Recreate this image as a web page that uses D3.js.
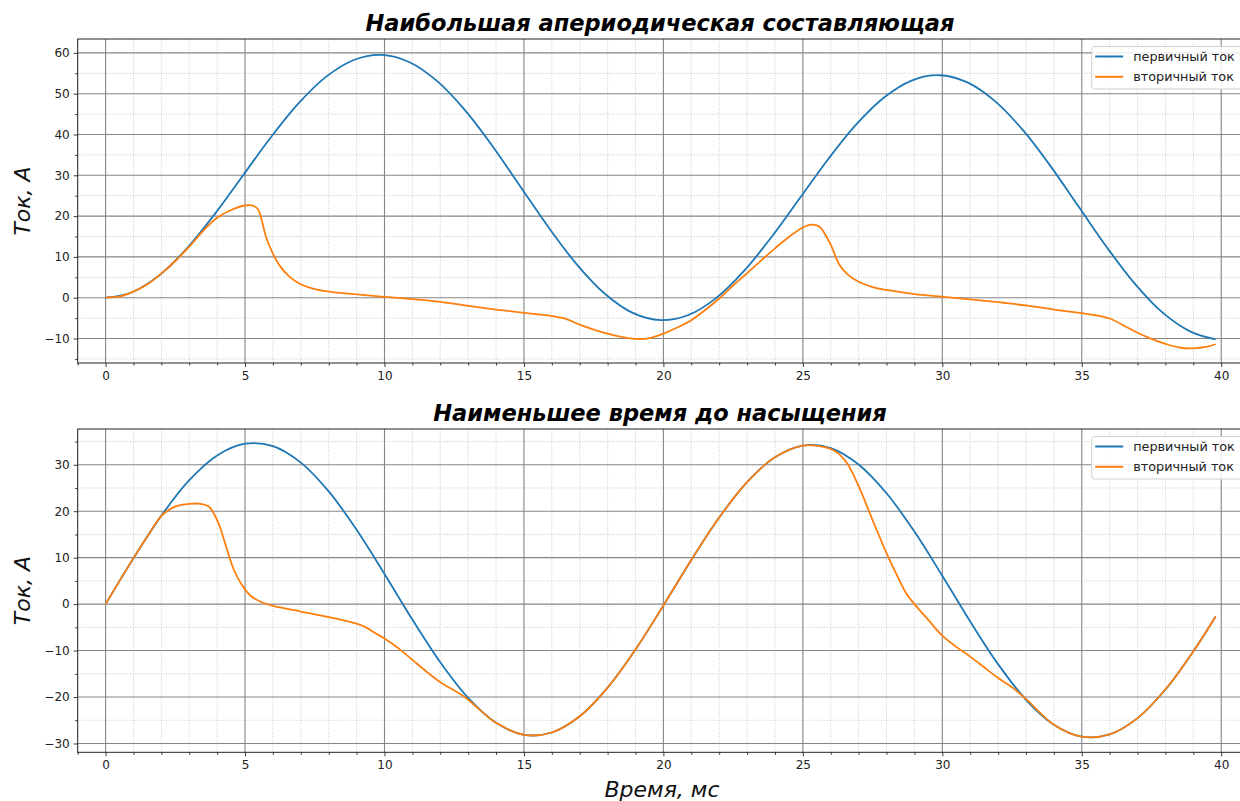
<!DOCTYPE html>
<html><head><meta charset="utf-8">
<script src="https://cdn.jsdelivr.net/npm/d3@7"></script>
<style>
html,body{margin:0;padding:0;background:#fff;}
svg{display:block;font-family:"DejaVu Sans",sans-serif;}
</style></head>
<body><svg id="c" width="1240" height="801"></svg>
<script>
// ---- data (time in ms, current in A) ----
const seriesNames = ["первичный ток", "вторичный ток"];
const seriesColors = ["#1f77b4", "#ff7f0e"];
const panelTitles = ["Наибольшая апериодическая составляющая", "Наименьшее время до насыщения"];
const xLabel = "Время, мс";
const yLabel = "Ток, А";
const xTicks = [0, 5, 10, 15, 20, 25, 30, 35, 40];
const yTicksTop = [-10, 0, 10, 20, 30, 40, 50, 60];
const yTicksBot = [-30, -20, -10, 0, 10, 20, 30];

const topPrimary = [[0,0],[0.9,1.22],[1.9,5.36],[2.9,11.97],[3.9,20.37],[4.9,29.72],[5.9,39.07],[6.9,47.49],[7.9,54.11],[8.9,58.26],[9.9,59.51],[10.9,57.71],[11.9,53.01],[12.9,45.84],[13.9,36.88],[14.9,26.97],[15.9,17.07],[16.9,8.12],[17.9,0.96],[18.9,-3.73],[19.9,-5.5],[20.9,-4.23],[21.9,-0.04],[22.9,6.62],[23.9,15.08],[24.9,24.48],[25.9,33.88],[26.9,42.35],[27.9,49.02],[28.9,53.22],[29.9,54.52],[30.9,52.77],[31.9,48.11],[32.9,40.99],[33.9,32.07],[34.9,22.21],[35.9,12.36],[36.9,3.45],[37.9,-3.67],[38.9,-8.31],[39.8,-10.2]];

const topSecondary = [[0,0],[0.5,0.3],[1,1.5],[1.5,3.3],[2,5.9],[2.5,9.0],[3,12.5],[3.5,16.4],[4,19.6],[4.5,21.5],[5,22.6],[5.25,22.6],[5.45,21.8],[5.6,19.0],[5.75,14.9],[6.0,10.8],[6.25,7.8],[6.6,5.1],[7,3.3],[7.5,2.1],[8,1.5],[9,0.8],[10,0.2],[11,-0.35],[12,-1.0],[13,-2.0],[14,-2.9],[15,-3.7],[15.5,-4.1],[16,-4.5],[16.5,-5.2],[17,-6.6],[17.5,-7.8],[18,-8.8],[18.5,-9.6],[19,-10.1],[19.5,-9.9],[20,-8.8],[20.5,-7.3],[21,-5.5],[21.5,-3.0],[22,-0.2],[22.5,3.0],[23,6.0],[23.5,9.1],[24,12.1],[24.5,14.9],[25,17.2],[25.3,17.9],[25.6,17.4],[25.8,15.5],[26.0,13.0],[26.3,8.2],[26.6,5.7],[27,3.9],[27.5,2.6],[28,1.9],[29,0.9],[30,0.25],[31,-0.4],[32,-1.1],[33,-1.9],[34,-2.9],[35,-3.8],[35.5,-4.3],[36,-5.1],[36.5,-6.8],[37,-8.6],[37.5,-10.1],[38,-11.3],[38.5,-12.2],[39,-12.4],[39.5,-12.0],[39.8,-11.4]];

const botPrimary = [[0,0],[0.5,5.0],[1,9.89],[2,19.05],[3,26.67],[4,32.0],[5,34.53],[6,34.0],[7,30.46],[8,24.26],[9,16.01],[10,6.5],[11,-3.33],[12,-12.52],[13,-20.19],[14,-25.56],[15,-28.13],[16,-27.64],[17,-24.14],[18,-17.98],[19,-9.77],[20,-0.3],[21,9.49],[22,18.64],[23,26.27],[24,31.6],[25,34.13],[26,33.6],[27,30.06],[28,23.86],[29,15.61],[30,6.1],[31,-3.73],[32,-12.92],[33,-20.59],[34,-25.96],[35,-28.53],[36,-28.04],[37,-24.54],[38,-18.38],[39,-10.17],[39.8,-2.65]];

const botSecondary = [[0,0],[0.5,5.0],[1,9.9],[1.5,14.6],[2,19.0],[2.3,20.4],[2.6,21.2],[3.0,21.6],[3.4,21.6],[3.7,21.0],[3.9,19.3],[4.1,16.6],[4.35,11.8],[4.6,7.4],[4.85,4.5],[5.2,1.8],[5.6,0.4],[6,-0.4],[7,-1.6],[8,-2.8],[8.8,-3.9],[9.3,-4.9],[9.6,-6.0],[10,-7.4],[10.5,-9.5],[11,-12.0],[11.5,-14.5],[12,-16.8],[12.5,-18.6],[12.9,-20.1],[13.5,-23.2],[14,-25.56],[15,-28.13],[16,-27.64],[17,-24.14],[18,-17.98],[19,-9.77],[20,-0.3],[21,9.49],[22,18.64],[23,26.27],[24,31.6],[25,34.13],[25.6,34.0],[26,33.4],[26.3,32.3],[26.6,30.2],[27,25.4],[27.5,18.1],[28,11.0],[28.4,5.9],[28.7,2.4],[29,0.0],[29.5,-3.4],[30,-6.8],[30.5,-9.2],[31,-11.3],[31.5,-13.6],[32,-15.9],[32.5,-17.9],[33,-20.4],[34,-25.96],[35,-28.53],[36,-28.04],[37,-24.54],[38,-18.38],[39,-10.17],[39.8,-2.65]];

// ---- drawing ----
const svg = d3.select("#c");
const xDomain = [-1, 40.9];
const plotLeft = 77.7, plotRight = 1246.3;

function fmt(v){ return v < 0 ? "\u2212" + Math.abs(v) : String(v); }

function drawPanel(cfg){
  const x = d3.scaleLinear().domain(xDomain).range([plotLeft, plotRight]);
  const y = d3.scaleLinear().domain(cfg.yDomain).range([cfg.bottom, cfg.top]);
  const g = svg.append("g");

  const xMinor = d3.range(-1, 41, 1).filter(v => x(v) >= plotLeft - 0.1 && x(v) <= plotRight);
  const yMinor = d3.range(Math.ceil(cfg.yDomain[0]/5)*5, cfg.yDomain[1], 5);

  // minor grid
  g.append("g").selectAll("line").data(xMinor.filter(v => v % 5 !== 0)).join("line")
    .attr("x1", d => x(d)).attr("x2", d => x(d)).attr("y1", cfg.top).attr("y2", cfg.bottom)
    .attr("stroke", "#bdbdbd").attr("stroke-width", 0.8).attr("stroke-dasharray", "1,1.6");
  g.append("g").selectAll("line").data(yMinor.filter(v => v % 10 !== 0)).join("line")
    .attr("x1", plotLeft).attr("x2", plotRight).attr("y1", d => y(d)).attr("y2", d => y(d))
    .attr("stroke", "#bdbdbd").attr("stroke-width", 0.8).attr("stroke-dasharray", "1,1.6");
  // major grid
  g.append("g").selectAll("line").data(xTicks).join("line")
    .attr("x1", d => x(d)).attr("x2", d => x(d)).attr("y1", cfg.top).attr("y2", cfg.bottom)
    .attr("stroke", "#858585").attr("stroke-width", 1.1);
  g.append("g").selectAll("line").data(cfg.yTicks).join("line")
    .attr("x1", plotLeft).attr("x2", plotRight).attr("y1", d => y(d)).attr("y2", d => y(d))
    .attr("stroke", "#858585").attr("stroke-width", 1.1);

  // lines
  const line = d3.line().x(d => x(d[0])).y(d => y(d[1])).curve(d3.curveCatmullRom.alpha(0.5));
  cfg.series.forEach((s, i) => {
    g.append("path").datum(s).attr("d", line).attr("fill", "none")
      .attr("stroke", seriesColors[i]).attr("stroke-width", 1.8).attr("stroke-linejoin", "round");
  });

  // spines
  g.append("rect").attr("x", plotLeft).attr("y", cfg.top).attr("width", plotRight - plotLeft)
    .attr("height", cfg.bottom - cfg.top).attr("fill", "none").attr("stroke", "#222").attr("stroke-width", 1);

  // axes ticks
  const xAxis = d3.axisBottom(x).tickValues(xTicks).tickFormat(fmt).tickSize(4).tickPadding(4);
  const xa = g.append("g").attr("transform", `translate(0,${cfg.bottom})`).call(xAxis);
  const xAxisMinor = d3.axisBottom(x).tickValues(xMinor.filter(v => v % 5 !== 0)).tickFormat("").tickSize(2.5);
  const xam = g.append("g").attr("transform", `translate(0,${cfg.bottom})`).call(xAxisMinor);
  const yAxis = d3.axisLeft(y).tickValues(cfg.yTicks).tickFormat(fmt).tickSize(4).tickPadding(4);
  const ya = g.append("g").attr("transform", `translate(${plotLeft},0)`).call(yAxis);
  const yAxisMinor = d3.axisLeft(y).tickValues(yMinor.filter(v => v % 10 !== 0)).tickFormat("").tickSize(2.5);
  const yam = g.append("g").attr("transform", `translate(${plotLeft},0)`).call(yAxisMinor);
  [xa, xam, ya, yam].forEach(a => {
    a.select(".domain").remove();
    a.selectAll("line").attr("stroke", "#222").attr("stroke-width", 0.9);
    a.selectAll("text").attr("fill", "#222").style("font-size", "12px").style("font-family", "DejaVu Sans");
  });

  // title
  svg.append("text").attr("x", (plotLeft + plotRight) / 2 - 2).attr("y", cfg.titleY)
    .attr("text-anchor", "middle").style("font-size", "22.5px").style("font-weight", "bold")
    .style("font-style", "italic").attr("fill", "#000").text(cfg.title);

  // y label
  const cy = (cfg.top + cfg.bottom) / 2;
  svg.append("text").attr("transform", `translate(30,${cy}) rotate(-90)`).attr("text-anchor", "middle")
    .style("font-size", "22px").style("font-style", "italic").attr("fill", "#111").text(yLabel);

  // legend
  const lg = svg.append("g").attr("transform", `translate(1091.7,${cfg.top + 7.5})`);
  lg.append("rect").attr("x", 0).attr("y", 0).attr("width", 160).attr("height", 42.5).attr("rx", 3)
    .attr("fill", "#fff").attr("fill-opacity", 0.85).attr("stroke", "#d0d0d0").attr("stroke-width", 1);
  seriesNames.forEach((n, i) => {
    const yy = 10 + i * 20.3;
    lg.append("line").attr("x1", 3.5).attr("x2", 31.5).attr("y1", yy).attr("y2", yy)
      .attr("stroke", seriesColors[i]).attr("stroke-width", 2);
    lg.append("text").attr("x", 41.5).attr("y", yy + 4.3).style("font-size", "12.8px").attr("fill", "#222").text(n);
  });
}

drawPanel({top: 39, bottom: 363, yDomain: [-16.0, 63.4], yTicks: yTicksTop,
  series: [topPrimary, topSecondary], title: panelTitles[0], titleY: 31});
drawPanel({top: 429, bottom: 752.3, yDomain: [-31.9, 37.7], yTicks: yTicksBot,
  series: [botPrimary, botSecondary], title: panelTitles[1], titleY: 421});

svg.append("text").attr("x", 662).attr("y", 797).attr("text-anchor", "middle")
  .style("font-size", "22px").style("font-style", "italic").attr("fill", "#111").text(xLabel);
</script></body></html>
